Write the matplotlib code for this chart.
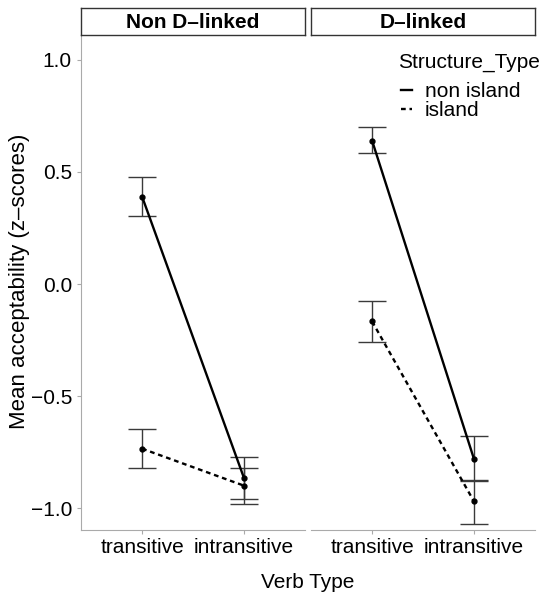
import numpy as np
import matplotlib
matplotlib.use('Agg')
import matplotlib.pyplot as plt
from matplotlib.lines import Line2D

plt.rcParams['font.family'] = ['Liberation Sans', 'DejaVu Sans']

panels = ['Non D-linked', 'D-linked']
verbs = ['transitive', 'intransitive']
structures = ['non island', 'island']

# mean and error bounds per panel, per structure (transitive, intransitive)
means = {
    'Non D-linked': {'non island': [0.39, -0.865], 'island': [-0.735, -0.90]},
    'D-linked': {'non island': [0.64, -0.78], 'island': [-0.167, -0.97]},
}
lower = {
    'Non D-linked': {'non island': [0.305, -0.96], 'island': [-0.82, -0.98]},
    'D-linked': {'non island': [0.585, -0.875], 'island': [-0.258, -1.073]},
}
upper = {
    'Non D-linked': {'non island': [0.478, -0.77], 'island': [-0.645, -0.82]},
    'D-linked': {'non island': [0.70, -0.68], 'island': [-0.075, -0.88]},
}
styles = {'non island': '-', 'island': (0, (2.0, 1.6))}

W, H = 543, 606
fig = plt.figure(figsize=(W / 100, H / 100), dpi=100)

def px(x0, y0, x1, y1):
    return [x0 / W, 1 - y1 / H, (x1 - x0) / W, (y1 - y0) / H]

ylo, yhi = -1.098, 1.107
lefts = [(81, 305), (311, 535)]
axes = []
for i, name in enumerate(panels):
    x0, x1 = lefts[i]
    ax = fig.add_axes(px(x0, 36, x1, 530))
    axes.append(ax)
    xs = np.arange(len(verbs))
    for s in structures:
        m = np.array(means[name][s])
        lo = np.array(lower[name][s])
        hi = np.array(upper[name][s])
        ax.errorbar(xs, m, yerr=[m - lo, hi - m], fmt='none', ecolor='#3a3a3a',
                    elinewidth=1.0, capsize=10, capthick=1.0, zorder=2)
        ax.plot(xs, m, color='black', lw=1.7, linestyle=styles[s], zorder=3)
        ax.plot(xs, m, 'o', color='black', ms=3.5, zorder=4)
    ax.set_xlim(-0.6, 1.6)
    ax.set_ylim(ylo, yhi)
    ax.set_xticks(xs)
    ax.set_xticklabels(verbs, fontsize=15)
    for sp in ['top', 'right']:
        ax.spines[sp].set_visible(False)
    ax.spines['bottom'].set_color('#aaaaaa')
    ax.spines['left'].set_color('#aaaaaa')
    ax.tick_params(axis='x', colors='#aaaaaa', labelcolor='black', length=3, pad=3)
    ax.tick_params(axis='y', colors='#aaaaaa', labelcolor='black', length=3, labelsize=15)
    ax.set_yticks([-1.0, -0.5, 0.0, 0.5, 1.0])
    ax.set_yticklabels(['\u22121.0', '\u22120.5', '0.0', '0.5', '1.0'])
    if i == 1:
        ax.spines['left'].set_visible(False)
        ax.tick_params(axis='y', left=False, labelleft=False)
    ax.set_facecolor('white')

    # strip
    sax = fig.add_axes(px(x0, 8, x1, 35))
    sax.set_xticks([])
    sax.set_yticks([])
    for sp in sax.spines.values():
        sp.set_color('#333333')
        sp.set_linewidth(1.0)
    sax.text(0.5, 0.45, name.replace('-', '\u2013'), ha='center', va='center',
             fontsize=15, fontweight='bold', transform=sax.transAxes)

fig.text(20 / W, 1 - 281 / H, 'Mean acceptability (z\u2013scores)', rotation=90,
         ha='center', va='center', fontsize=16)
fig.text(308 / W, 1 - 582 / H, 'Verb Type', ha='center', va='center', fontsize=15)

# legend
fig.text(398 / W, 1 - 62 / H, 'Structure_Type', ha='left', va='center', fontsize=15)
handles = [Line2D([0], [0], color='black', lw=1.7, linestyle=styles[s]) for s in structures]
leg = axes[1].legend(handles, structures, loc='upper left',
                     bbox_to_anchor=((401 - 311) / 224, (530 - 82) / 494), frameon=False,
                     fontsize=15, handlelength=0.55, handletextpad=0.6,
                     labelspacing=0.0, borderaxespad=0, borderpad=0)

fig.savefig('out.png', dpi=100)
